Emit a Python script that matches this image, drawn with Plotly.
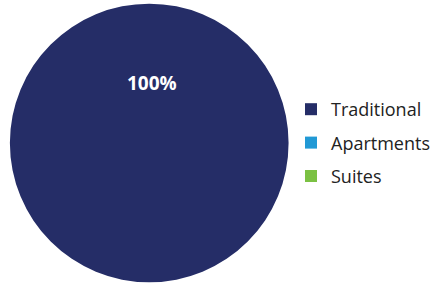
import plotly.graph_objects as go

labels = ["Traditional", "Apartments", "Suites"]
values = [100, 0, 0]
colors = ["#252d67", "#2199d5", "#7bc143"]

share = [v / sum(values) for v in values]

fig = go.Figure(go.Pie(
    labels=labels, values=values, sort=False, direction="clockwise",
    marker=dict(colors=colors, line=dict(width=0)),
    textinfo="none", showlegend=False,
    domain=dict(x=[0.023, 0.671], y=[0.007, 0.993]),
    hoverinfo="label+percent",
))
# legend entries built from the same labels/colours
for lab, col in zip(labels, colors):
    fig.add_trace(go.Scatter(
        x=[None], y=[None], mode="markers", name=lab, legendgroup=lab,
        marker=dict(symbol="square", size=12, color=col),
    ))
fig.add_annotation(
    text=f"<b>{share[0]:.0%}</b>", x=154 / 435, y=1 - 83 / 286,
    xref="paper", yref="paper", xanchor="center", yanchor="middle",
    showarrow=False,
    font=dict(color="white", size=19, family="Open Sans"),
)
fig.update_layout(
    width=435, height=286, margin=dict(l=0, r=0, t=0, b=0),
    paper_bgcolor="white", plot_bgcolor="white",
    font=dict(family="Open Sans", size=18, color="#222222"),
    xaxis=dict(visible=False), yaxis=dict(visible=False),
    legend=dict(x=0.677, y=0.5, xanchor="left", yanchor="middle",
                font=dict(size=18), tracegroupgap=7, itemwidth=30),
)
fig.write_html(
    "out.html",
    config={"displayModeBar": False},
    post_script="document.body.style.margin='0px';document.body.style.overflow='hidden';",
)
